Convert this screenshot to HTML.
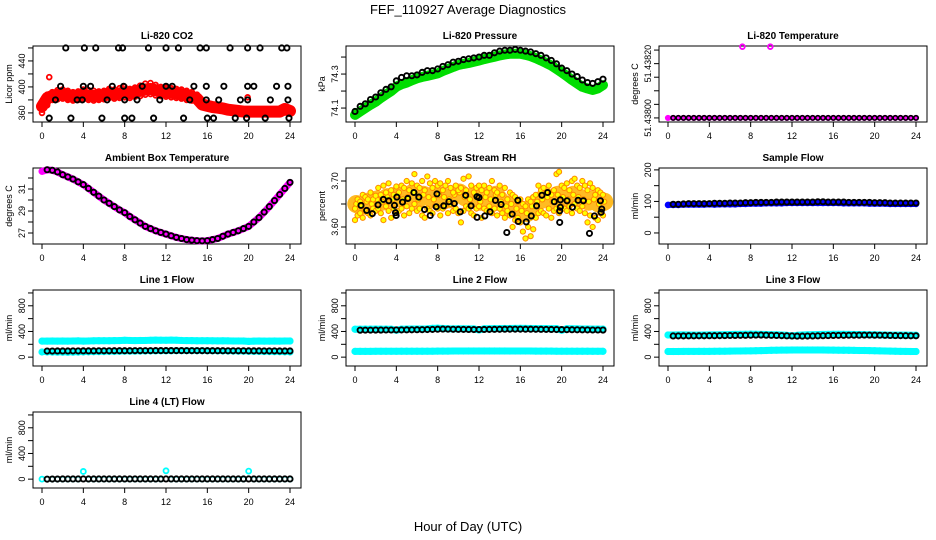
<!DOCTYPE html>
<html><head><meta charset="utf-8">
<style>
html,body{margin:0;padding:0;background:#fff;}
svg{display:block;font-family:"Liberation Sans",sans-serif;}
</style></head>
<body>
<svg id="chart" width="936" height="540" viewBox="0 0 936 540">
<text x="468" y="14" text-anchor="middle" font-size="13">FEF_110927  Average Diagnostics</text>
<text x="468" y="531" text-anchor="middle" font-size="13">Hour of Day (UTC)</text>
</svg>
<script>
// ---- data ----
const xTicks = [0,4,8,12,16,20,24];
const half = Array.from({length:49},(_,i)=>i*0.5);
const quarter = Array.from({length:97},(_,i)=>i*0.25);

const co2A = [365,388,392,395,396,394,392,393,396,395,394,393,394,397,396,398,400,397,399,402,405,406,403,400,399,398,397,396,394,392,388,376,374,372,371,370,368,366,365,364,364,364,364,364,364,365,365,370,366];
const co2M = [370,383,386,388,389,387,385,386,388,387,386,386,387,390,389,390,392,390,392,394,396,397,395,393,392,391,390,389,387,385,382,373,371,369,368,367,365,364,363,362,362,362,362,362,362,362,362,366,363];
const co2B = [360,372,380,381,382,380,379,380,381,380,379,380,381,383,382,383,384,383,385,386,388,389,387,386,385,384,383,382,380,379,376,370,368,366,365,364,362,361,360,360,360,360,360,360,360,360,360,363,361];
const co2OutHours = [0.7,19.9];
const co2OutVals = [415,384];
const co2KHours = [2.3,4.1,5.2,7.4,7.8,10.3,12.0,13.2,15.3,15.9,18.2,19.9,21.1,23.2,23.7, 1.8,4.0,4.7,6.8,7.9,9.7,12.0,12.6,14.7,15.9,17.6,19.9,20.5,22.7,23.8, 1.3,3.4,3.9,6.3,8.0,9.2,11.4,14.3,15.9,17.1,19.2,19.9,22.1,23.8, 0.7,2.8,5.8,8.0,8.7,10.8,13.7,16.0,16.6,18.7,19.8,21.6,23.9];
const co2KVals = [460,460,460,460,460,460,460,460,460,460,460,460,460,460,460, 401,401,401,401,401,401,401,401,401,401,401,401,401,401,401, 380,380,380,380,380,380,380,380,380,380,380,380,380,380, 352,352,352,352,352,352,352,352,352,352,352,352,352];

const presG = [74.06,74.08,74.10,74.12,74.137,74.16,74.18,74.20,74.225,74.24,74.25,74.263,74.275,74.283,74.29,74.297,74.304,74.318,74.33,74.342,74.353,74.36,74.365,74.372,74.38,74.388,74.395,74.402,74.41,74.415,74.42,74.42,74.42,74.413,74.405,74.393,74.38,74.365,74.35,74.33,74.31,74.288,74.265,74.245,74.225,74.215,74.206,74.215,74.235];
const presK = [74.08,74.11,74.125,74.15,74.165,74.19,74.21,74.225,74.26,74.28,74.29,74.29,74.295,74.31,74.32,74.32,74.33,74.345,74.355,74.37,74.375,74.385,74.39,74.395,74.40,74.41,74.41,74.425,74.435,74.44,74.44,74.445,74.44,74.435,74.43,74.42,74.41,74.395,74.38,74.36,74.335,74.32,74.30,74.285,74.265,74.25,74.245,74.255,74.27];

const liTempHours = [7.2,9.9];
const liTempHigh = [51.43821,51.43821];
const liTempBase = 51.43800;

const amb = [32.6,32.75,32.7,32.55,32.3,32.1,31.9,31.65,31.4,31.05,30.7,30.35,30.0,29.7,29.4,29.1,28.85,28.5,28.2,27.9,27.6,27.4,27.2,27.05,26.9,26.75,26.6,26.5,26.4,26.35,26.3,26.28,26.3,26.4,26.5,26.7,26.9,27.05,27.2,27.4,27.6,28.0,28.4,28.9,29.4,29.95,30.5,31.05,31.6];

const rhA = [3.64,3.66,3.655,3.67,3.665,3.66,3.675,3.66,3.668, 3.685,3.67,3.69,3.675,3.695,3.68,3.67,3.688, 3.675,3.69,3.685,3.70,3.68,3.695,3.715,3.69, 3.685,3.70,3.68,3.71,3.695,3.685,3.70,3.69, 3.695,3.68,3.69,3.70,3.685,3.675,3.69,3.68, 3.685,3.705,3.68,3.71,3.69,3.675,3.685,3.69, 3.68,3.69,3.675,3.685,3.70,3.68,3.675,3.69, 3.67,3.685,3.66,3.675,3.67,3.665,3.655,3.66, 3.65,3.645,3.66,3.655,3.665,3.67,3.69,3.68, 3.685,3.675,3.69,3.67,3.68,3.715,3.72,3.69, 3.685,3.695,3.68,3.70,3.705,3.69,3.685,3.70, 3.69,3.68,3.695,3.685,3.67,3.68,3.675,3.67];
const rhB = [3.615,3.625,3.63,3.62,3.635,3.63,3.625,3.64,3.635, 3.64,3.63,3.615,3.645,3.635,3.62,3.64,3.63, 3.635,3.64,3.625,3.645,3.63,3.64,3.65,3.635, 3.64,3.625,3.62,3.64,3.635,3.63,3.645,3.64, 3.625,3.64,3.645,3.63,3.65,3.635,3.64,3.63, 3.61,3.635,3.645,3.64,3.63,3.625,3.64,3.645, 3.62,3.64,3.635,3.645,3.63,3.64,3.625,3.64, 3.63,3.62,3.635,3.625,3.60,3.615,3.62,3.61, 3.59,3.575,3.60,3.58,3.595,3.62,3.63,3.635, 3.63,3.625,3.64,3.62,3.635,3.64,3.63,3.645, 3.64,3.635,3.645,3.63,3.65,3.64,3.635,3.645, 3.63,3.61,3.625,3.60,3.62,3.615,3.63,3.625];
const rhM = [3.65,3.645,3.655,3.65,3.66,3.655,3.665,3.66,3.67,3.66,3.665,3.675,3.66,3.67,3.665,3.66,3.67,3.665,3.66,3.67,3.675,3.665,3.66,3.67,3.655,3.665,3.66,3.67,3.655,3.645,3.65,3.64,3.635,3.63,3.645,3.655,3.66,3.665,3.655,3.67,3.665,3.66,3.67,3.665,3.66,3.655,3.66,3.65,3.655];
const rhKHours = [0.58,1.13,1.68,2.23,2.75,3.27,3.82,3.92,3.98,4.05,4.6,5.11,5.7,6.18,6.73,7.28,7.86,7.93,8.58,9.09,9.61,10.19,10.71,11.23,11.81,11.81,12.0,12.56,13.07,13.59,14.14,14.69,15.21,15.76,15.79,16.57,17.06,17.57,18.09,18.64,19.29,19.81,19.81,19.87,19.87,20.52,21.04,21.59,22.1,22.69,23.17,23.75,23.82,23.88];
const rhKVals = [3.647,3.636,3.629,3.648,3.660,3.657,3.647,3.631,3.625,3.665,3.654,3.662,3.675,3.665,3.638,3.625,3.644,3.672,3.646,3.655,3.651,3.633,3.669,3.646,3.621,3.666,3.664,3.624,3.633,3.658,3.649,3.588,3.628,3.658,3.612,3.611,3.624,3.646,3.669,3.675,3.655,3.635,3.610,3.659,3.643,3.657,3.643,3.658,3.657,3.586,3.624,3.657,3.632,3.639];

const sfB = [89,89,89,90,90,90,90,90,91,90,91,91,91,91,92,92,93,93,93,94,94,94,94,95,95,95,95,95,95,95,95,95,95,95,94,94,94,94,94,93,93,93,93,92,92,92,92,92,92];
const sfK = [91,91,92,93,93,93,93,93,94,94,94,95,95,95,96,96,97,97,97,97,98,98,98,98,98,98,98,98,99,99,98,98,98,98,97,97,97,97,97,96,96,96,95,95,95,95,95,95,94];

const l1Up = [250,250,252,250,251,250,252,253,250,252,254,255,256,255,257,258,262,260,258,259,260,262,265,263,262,266,264,260,258,257,255,256,255,254,253,254,253,252,252,251,246,250,251,250,250,251,250,252,251];
const l1Lo = [80,80,78,77,76,75,76,78,80,82,84,85,86,88,88,90,92,92,93,94,95,96,97,98,98,99,100,100,101,101,100,100,99,98,97,96,95,94,93,92,90,89,88,87,86,85,84,82,80];
const l1K = [95,95,95,96,96,96,97,97,98,98,98,99,99,99,100,100,100,100,101,101,101,101,102,102,102,102,102,102,101,101,101,101,100,100,100,100,99,99,99,99,98,98,98,97,97,97,96,96,96];
const l2Up = [435,435,436,436,437,436,436,435,420,436,437,438,438,439,440,448,450,446,442,440,441,441,440,440,425,442,443,444,445,446,446,447,448,447,446,445,445,444,443,444,420,442,441,440,439,438,437,437,436];
const l2Lo = [90,90,90,90,91,91,91,91,91,92,92,92,92,92,93,93,94,94,94,95,95,95,96,96,96,96,96,96,96,96,95,95,95,95,95,94,94,94,94,93,93,93,93,92,92,92,91,91,91];
const l2K = [420,420,421,421,422,422,423,423,424,424,425,426,427,428,430,432,435,437,436,434,433,432,431,430,430,431,432,433,434,435,436,436,436,435,435,434,433,432,431,430,429,428,427,426,425,424,423,423,422];
const l3Up = [345,345,346,346,345,344,344,345,346,347,348,350,352,354,355,356,358,356,354,352,350,348,345,340,332,340,345,348,350,352,354,355,356,356,355,354,353,352,351,350,348,346,345,344,344,343,343,342,342];
const l3Lo = [88,88,88,89,89,89,90,90,90,91,92,93,94,95,96,97,98,100,102,104,106,108,110,110,111,112,112,112,112,112,111,110,109,108,107,106,105,104,103,102,100,98,96,94,92,90,89,88,88];
const l3K = [330,330,331,331,332,332,333,333,334,334,335,336,337,338,339,340,342,343,344,342,340,338,335,332,330,328,328,329,330,332,334,336,338,339,340,341,342,342,343,343,342,341,340,338,336,335,334,333,333];
const l4C = [0,0,0,0,0,0,0,0,120,0,0,0,0,0,0,0,0,0,0,0,0,0,0,0,130,0,0,0,0,0,0,0,0,0,0,0,0,0,0,0,125,0,0,0,0,0,0,0,0];
const l4K = [0,0,2,2,3,3,3,3,3,3,3,3,3,3,3,3,3,3,3,3,3,3,3,3,3,3,3,3,3,3,3,3,3,3,3,3,3,3,3,3,3,3,3,3,3,3,3,3,3];

// ---- layout ----
const NS = "http://www.w3.org/2000/svg";
const svg = document.getElementById('chart');
const colLeft = [33,346,659];
const rowTop = [46,168,290,412];
const BW = 268, BH = 76;

function mk(tag, attrs, parent){
  const e = document.createElementNS(NS, tag);
  for (const k in attrs) e.setAttribute(k, attrs[k]);
  (parent||svg).appendChild(e);
  return e;
}

function panel(col,row,title,ylab,ylim,yTicks,yLabels,name){
  const L = colLeft[col], T = rowTop[row];
  const g = mk('g',{});
  
  
  const xs = h => L + 9 + h*(248/24);
  const ys = v => T + BH - (v-ylim[0])/(ylim[1]-ylim[0])*BH;
  const t = mk('text',{x:L+BW/2,y:T-7,'text-anchor':'middle','font-size':10,'font-weight':'bold'},g);
  t.textContent = title;
  
  
  const box = mk('rect',{x:L,y:T,width:BW,height:BH,fill:'none',stroke:'#000','stroke-width':1},g);
  
  
  const xa = mk('g',{},g);
  
  
  xTicks.forEach(h=>{
    mk('line',{x1:xs(h),x2:xs(h),y1:T+BH,y2:T+BH+5,stroke:'#000'},xa);
    const tl = mk('text',{x:xs(h),y:T+BH+17,'text-anchor':'middle','font-size':9},xa);
    tl.textContent = h;
    
    
  });
  const ya = mk('g',{},g);
  
  
  yTicks.forEach((v,i)=>{
    mk('line',{x1:L,x2:L-5,y1:ys(v),y2:ys(v),stroke:'#000'},ya);
    if (yLabels[i]) {
      const tl = mk('text',{x:0,y:0,'text-anchor':'middle','font-size':9,transform:`translate(${L-8},${ys(v)}) rotate(-90)`},ya);
      tl.textContent = yLabels[i];
      
      
    }
  });
  const yt = mk('text',{x:0,y:0,'text-anchor':'middle','font-size':9,transform:`translate(${L-21},${T+BH/2}) rotate(-90)`},g);
  yt.textContent = ylab;
  
  
  const clip = 'clip-'+name;
  const cp = mk('clipPath',{id:clip},g);
  mk('rect',{x:L,y:T-4,width:BW,height:BH+8},cp);
  const plot = mk('g',{'clip-path':`url(#${clip})`},g);
  return {xs,ys,plot,name};
}

function points(p,hours,vals,color,sname,opts){
  opts = opts||{};
  const r = opts.r||2.4, sw = opts.sw||1.4;
  const s = mk('g',{},p.plot);
  
  
  if (opts.band){
    const d = hours.map((h,i)=>(i?'L':'M')+p.xs(h).toFixed(1)+','+p.ys(vals[i]).toFixed(1)).join('');
    mk('path',{d:d,fill:'none',stroke:opts.bandColor||color,'stroke-width':opts.band,'stroke-linejoin':'round','stroke-linecap':'round'},s);
  }
  hours.forEach((h,i)=>{
    const c = mk('circle',{cx:p.xs(h),cy:p.ys(vals[i]),r:r,fill:opts.fill||'none',stroke:color,'stroke-width':sw},s);
    
    
  });
}

const KB = {r:2.6,sw:1.9};

let p = panel(0,0,'Li-820 CO2','Licor ppm',[346,463],[360,380,400,420,440,460],['360','','400','','440',''],'co2');
points(p,half,co2B,'#f00','red-low',{r:2.4,sw:1.8});
points(p,half,co2M,'#f00','red-mid',{r:2.4,sw:1.8,band:12});
points(p,half,co2A,'#f00','red-high',{r:2.4,sw:1.8});
points(p,co2OutHours,co2OutVals,'#f00','red-outlier',{r:2.4,sw:1.8});
points(p,co2KHours,co2KVals,'#000','black',KB);

p = panel(1,0,'Li-820 Pressure','kPa',[74.018,74.465],[74.1,74.2,74.3,74.4],['74.1','','74.3',''],'pressure');
points(p,half,presG,'#0d0','green',{r:3,sw:2,band:10});
points(p,half,presK,'#000','black',KB);

p = panel(2,0,'Li-820 Temperature','degrees C',[51.437988,51.438212],[51.43800,51.43804,51.43808,51.43812,51.43816,51.43820],['51.43800','','','','51.43820',''],'li820-temp');
points(p,half,half.map(()=>liTempBase),'#f0f','magenta',{r:2.3,sw:1.6,band:4});
points(p,half.slice(1),half.slice(1).map(()=>liTempBase),'#000','black',{r:2.2,sw:1.6});
points(p,liTempHours,liTempHigh,'#f0f','magenta-high',{r:2.4,sw:1.8});

p = panel(0,1,'Ambient Box Temperature','degrees C',[26.0,32.91],[27,28,29,30,31,32],['27','','29','','31',''],'ambient');
points(p,half,amb,'#f0f','magenta',{r:2.5,sw:1.6,band:7});
points(p,half.slice(1),amb.slice(1),'#000','black',KB);

p = panel(1,1,'Gas Stream RH','percent',[3.563,3.7283],[3.60,3.65,3.70],['3.60','','3.70'],'rh');
points(p,half.map(h=>h+0.125),rhM,'#f80','yellow-mid',{r:2.6,sw:1,fill:'#ff0',band:18,bandColor:'#fb2'});
points(p,quarter,rhA,'#f80','yellow-high',{r:2.6,sw:1,fill:'#ff0'});
points(p,quarter,rhB,'#f80','yellow-low',{r:2.6,sw:1,fill:'#ff0'});
points(p,rhKHours,rhKVals,'#000','black',KB);

p = panel(2,1,'Sample Flow','ml/min',[-35,206],[0,50,100,150,200],['0','','100','','200'],'sample-flow');
points(p,half,sfB,'#00f','blue',{r:2.5,sw:1.6,band:6});
points(p,half.slice(1),sfK,'#000','black',KB);

const flowTicks = [0,200,400,600,800,1000];
const flowLabels = ['0','','400','','800',''];
const flowLim = [-138,1046];

p = panel(0,2,'Line 1 Flow','ml/min',flowLim,flowTicks,flowLabels,'line1');
points(p,half,l1Up,'#0ff','cyan-high',{r:2.6,sw:2,band:7});
points(p,half,l1Lo,'#0ff','cyan-low',{r:2.6,sw:2,band:6});
points(p,half.slice(1),l1K.slice(1),'#000','black',KB);

p = panel(1,2,'Line 2 Flow','ml/min',flowLim,flowTicks,flowLabels,'line2');
points(p,half,l2Up,'#0ff','cyan-high',{r:2.6,sw:2,band:7});
points(p,half,l2Lo,'#0ff','cyan-low',{r:2.6,sw:2,band:7});
points(p,half.slice(1),l2K.slice(1),'#000','black',KB);

p = panel(2,2,'Line 3 Flow','ml/min',flowLim,flowTicks,flowLabels,'line3');
points(p,half,l3Up,'#0ff','cyan-high',{r:2.6,sw:2,band:7});
points(p,half,l3Lo,'#0ff','cyan-low',{r:2.6,sw:2,band:7});
points(p,half.slice(1),l3K.slice(1),'#000','black',KB);

p = panel(0,3,'Line 4 (LT) Flow','ml/min',flowLim,flowTicks,flowLabels,'line4');
points(p,half,l4C,'#0ff','cyan',{r:2.5,sw:1.8});
points(p,half.slice(1),l4K.slice(1),'#000','black',KB);
</script>
</body></html>
